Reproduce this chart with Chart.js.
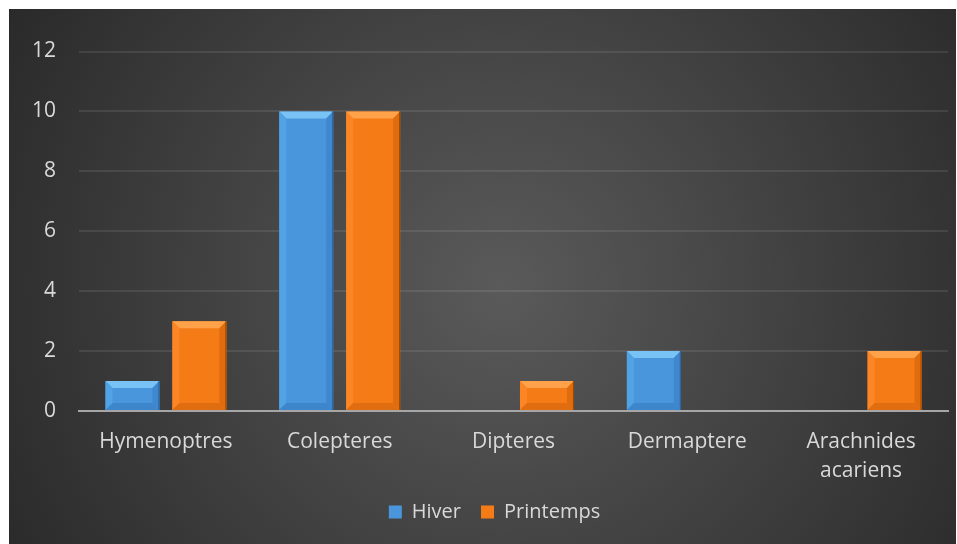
<!DOCTYPE html>
<html>
<head>
<meta charset="utf-8">
<script src="https://cdn.jsdelivr.net/npm/chart.js@4.4.1/dist/chart.umd.min.js"></script>
<style>
  html, body { margin: 0; padding: 0; background: #fff; }
  #wrap { position: absolute; left: 9px; top: 9px; width: 947px; height: 535px; }
</style>
</head>
<body>
<div id="wrap"><canvas id="chart"></canvas></div>
<script>
const categories = ['Hymenoptres', 'Colepteres', 'Dipteres', 'Dermaptere', ['Arachnides', 'acariens']];
const hiver = [1, 10, 0, 2, 0];
const printemps = [3, 10, 1, 0, 2];
const yTicks = [0, 2, 4, 6, 8, 10, 12];

const textColor = '#d9d9d9';
const font = { family: 'Open Sans', size: 21 };

// dark radial background behind the whole chart
const background = {
    id: 'background',
    beforeDraw(chart) {
        const { ctx, width, height } = chart;
        const g = ctx.createRadialGradient(width * 0.52, height * 0.52, 0, width * 0.52, height * 0.52, width * 0.62);
        g.addColorStop(0, '#5a5a5a');
        g.addColorStop(1, '#282828');
        ctx.save();
        ctx.fillStyle = g;
        ctx.fillRect(0, 0, width, height);
        ctx.restore();
    }
};

// move the legend a bit right, like the original
const legendShift = {
    id: 'legendShift',
    afterLayout(chart) {
        if (chart.legend) {
            chart.legend.left += 16;
            chart.legend.right += 16;
        }
    }
};

// bevelled look on the bars
const bevel = {
    id: 'bevel',
    afterDatasetsDraw(chart) {
        const ctx = chart.ctx;
        const tones = [
            { top: '#79c2f5', left: '#52a3e6', right: '#3f88cf', bottom: '#3e86cc', edge: '#2a5f96' },
            { top: '#ffa24a', left: '#fc8625', right: '#e06c0e', bottom: '#e06d10', edge: '#9a4800' }
        ];
        chart.data.datasets.forEach((ds, i) => {
            const t = tones[i];
            chart.getDatasetMeta(i).data.forEach(bar => {
                const l = bar.x - bar.width / 2, r = bar.x + bar.width / 2;
                const top = bar.y, bot = bar.base;
                if (bot - top < 2) return;
                const b = Math.min(7, (bot - top) / 2);
                ctx.save();
                const poly = (pts, c) => {
                    ctx.beginPath();
                    ctx.moveTo(pts[0][0], pts[0][1]);
                    pts.slice(1).forEach(p => ctx.lineTo(p[0], p[1]));
                    ctx.closePath();
                    ctx.fillStyle = c;
                    ctx.fill();
                };
                poly([[l, top], [r, top], [r - b, top + b], [l + b, top + b]], t.top);
                poly([[l, top], [l + b, top + b], [l + b, bot - b], [l, bot]], t.left);
                poly([[r, top], [r - b, top + b], [r - b, bot - b], [r, bot]], t.right);
                poly([[l, bot], [l + b, bot - b], [r - b, bot - b], [r, bot]], t.bottom);
                ctx.strokeStyle = t.edge;
                ctx.lineWidth = 1;
                ctx.beginPath();
                ctx.moveTo(r - 0.5, top);
                ctx.lineTo(r - 0.5, bot);
                ctx.stroke();
                ctx.restore();
            });
        });
    }
};

new Chart(document.getElementById('chart'), {
    type: 'bar',
    data: {
        labels: categories,
        datasets: [{
            label: 'Hiver',
            data: hiver,
            backgroundColor: '#4a96dc',
            borderColor: '#2d6fb0',
            borderWidth: 0
        }, {
            label: 'Printemps',
            data: printemps,
            backgroundColor: '#f57b17',
            borderColor: '#b85a08',
            borderWidth: 0
        }]
    },
    options: {
        responsive: true,
        maintainAspectRatio: false,
        animation: false,
        categoryPercentage: 0.77,
        barPercentage: 0.806,
        layout: { padding: { top: 42.5, right: 8, left: 0, bottom: 12 } },
        scales: {
            x: {
                grid: { display: false },
                border: { display: true, color: '#a6a6a6', width: 2 },
                ticks: { color: textColor, font: { ...font, lineHeight: 1.38 }, padding: 9, maxRotation: 0, autoSkip: false },
                afterFit(scale) { scale.height = 71; }
            },
            y: {
                min: 0,
                max: 12,
                afterBuildTicks(scale) { scale.ticks = yTicks.map(v => ({ value: v })); },
                grid: { color: 'rgba(255,255,255,0.09)', lineWidth: 2, drawTicks: false },
                border: { display: false },
                ticks: { color: textColor, font: font, padding: 23 },
                afterFit(scale) { scale.width = 70; }
            }
        },
        plugins: {
            legend: {
                position: 'bottom',
                labels: { color: textColor, font: { family: 'Open Sans', size: 20 }, boxWidth: 13, boxHeight: 13, padding: 20 }
            },
            tooltip: { enabled: false }
        }
    },
    plugins: [background, legendShift, bevel]
});
</script>
</body>
</html>
